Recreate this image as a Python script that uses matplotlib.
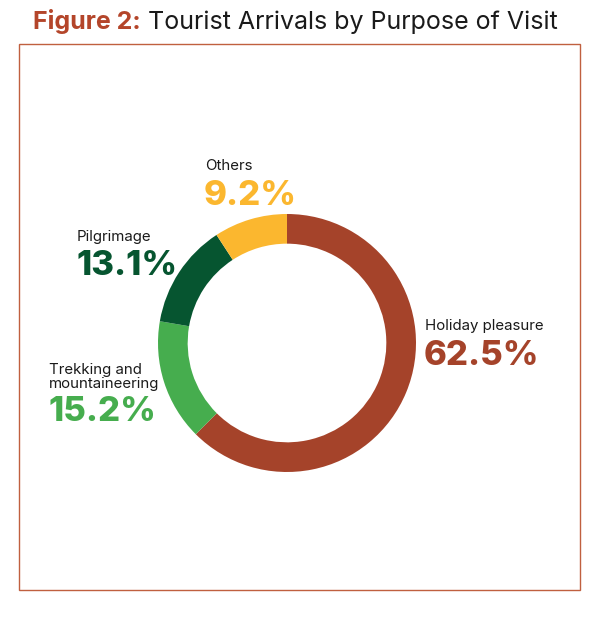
import matplotlib.pyplot as plt
from matplotlib.patches import Rectangle

# data
categories = ['Holiday pleasure', 'Trekking and\nmountaineering', 'Pilgrimage', 'Others']
shares = [62.5, 15.2, 13.1, 9.2]
colors = ['#A5432A', '#46AD4E', '#065530', '#FBB72F']

W, H = 600, 622
fig = plt.figure(figsize=(W / 100, H / 100), dpi=100)

def px(x, y):
    return x / W, 1 - y / H

# title in two parts, second placed right after the first
t1 = fig.text(*px(33, 22), 'Figure 2:', fontsize=18, fontweight='bold', color='#B4452A',
              family='Inter', va='center', ha='left')
fig.canvas.draw()
bb = t1.get_window_extent()
fig.text((bb.x1 + 7) / W, 1 - 22 / H, 'Tourist Arrivals by Purpose of Visit', fontsize=18,
         color='#1a1a1a', family='Inter', va='center', ha='left')

# border
fig.add_artist(Rectangle(px(19, 590), 561 / W, 546 / H, transform=fig.transFigure,
                         fill=False, edgecolor='#C0603F', lw=1))

# donut
cx, cy, r = 287, 343, 129
ax = fig.add_axes([(cx - r) / W, (H - cy - r) / H, 2 * r / W, 2 * r / H])
ax.pie(shares, colors=colors, startangle=90, counterclock=False, radius=1,
       wedgeprops=dict(width=0.23, linewidth=0))
ax.set_xlim(-1, 1)
ax.set_ylim(-1, 1)
ax.axis('off')

# labels: (left x, name y, pct y)
label_pos = [(425, 326, 356), (49, 377, 412), (77, 237, 266), (205, 166, 196)]
for cat, val, col, (lx, ny, py) in zip(categories, shares, colors, label_pos):
    fig.text(*px(lx, ny), cat, fontsize=10.8, color='#1a1a1a', family='Inter',
             va='center', ha='left', linespacing=1.05)
    fig.text(*px(lx - 1, py), f'{val}%', fontsize=25, fontweight='heavy', color=col,
             family='Inter', va='center', ha='left')

fig.savefig('out.png', dpi=100)
